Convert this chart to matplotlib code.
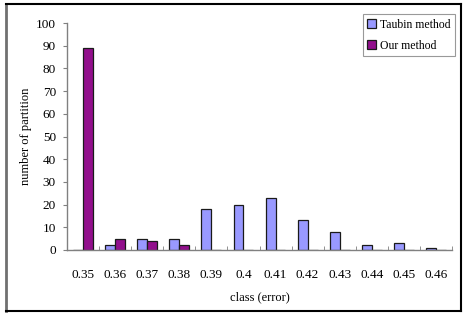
import matplotlib
matplotlib.use("Agg")
import matplotlib.pyplot as plt
import numpy as np
from matplotlib.lines import Line2D

categories = ["0.35", "0.36", "0.37", "0.38", "0.39", "0.4", "0.41", "0.42", "0.43", "0.44", "0.45", "0.46"]
taubin = [0, 2, 5, 5, 18, 20, 23, 13, 8, 2, 3, 1]
ours = [89, 5, 4, 2, 0, 0, 0, 0, 0, 0, 0, 0]
yticks = [0, 10, 20, 30, 40, 50, 60, 70, 80, 90, 100]

plt.rcParams['font.family'] = ['Liberation Serif', 'DejaVu Serif']

fig = plt.figure(figsize=(4.66, 3.15), dpi=100)
ax = fig.add_axes([67/466, 1-250/315, (452-67)/466, (250-23)/315])

x = np.arange(len(categories))
w = 0.31
ax.bar(x - w, taubin, width=w, align='edge', color='#9999FF', edgecolor='#1a1a1a', linewidth=0.9, label='Taubin method')
ax.bar(x, ours, width=w, align='edge', color='#920F8C', edgecolor='#1a1a1a', linewidth=0.9, label='Our method')

ax.set_xlim(-0.5, len(categories) - 0.5)
ax.set_ylim(0, 100)
ax.set_yticks(yticks)
ax.set_xticks(x)
ax.set_xticklabels(categories)
ax.set_xticks(np.arange(len(categories) + 1) - 0.5, minor=True)
ax.tick_params(axis='x', which='major', length=0, pad=14, labelsize=9.5)
ax.tick_params(axis='x', which='minor', direction='in', length=3, color='#808080')
ax.tick_params(axis='y', direction='out', length=3, color='#808080', pad=5, labelsize=9.5)

for s in ['top', 'right']:
    ax.spines[s].set_visible(False)
for s in ['left', 'bottom']:
    ax.spines[s].set_color('#808080')
    ax.spines[s].set_linewidth(1.0)

ax.set_xlabel('class (error)', fontsize=9, labelpad=7)
ax.set_ylabel('number of partition', fontsize=9, labelpad=3)

leg = ax.legend(loc='upper right', bbox_to_anchor=(455/466, 1-14/315), bbox_transform=fig.transFigure,
                fontsize=8.5, frameon=True, fancybox=False, handlelength=0.75, handleheight=0.75,
                handletextpad=0.3, borderpad=0.4, labelspacing=0.75, borderaxespad=0)
leg.get_frame().set_edgecolor('#808080')
leg.get_frame().set_linewidth(0.8)

# figure border
fig.add_artist(Line2D([6/466, 6/466], [1-4/315, 1-311/315], transform=fig.transFigure, color='#707070', lw=2))
fig.add_artist(Line2D([6/466, 461/466], [1-4/315, 1-4/315], transform=fig.transFigure, color='black', lw=1.5))
fig.add_artist(Line2D([461/466, 461/466], [1-4/315, 1-311/315], transform=fig.transFigure, color='black', lw=1.5))
fig.add_artist(Line2D([6/466, 461/466], [1-311/315, 1-311/315], transform=fig.transFigure, color='black', lw=1.5))

fig.savefig('out.png', dpi=100)
